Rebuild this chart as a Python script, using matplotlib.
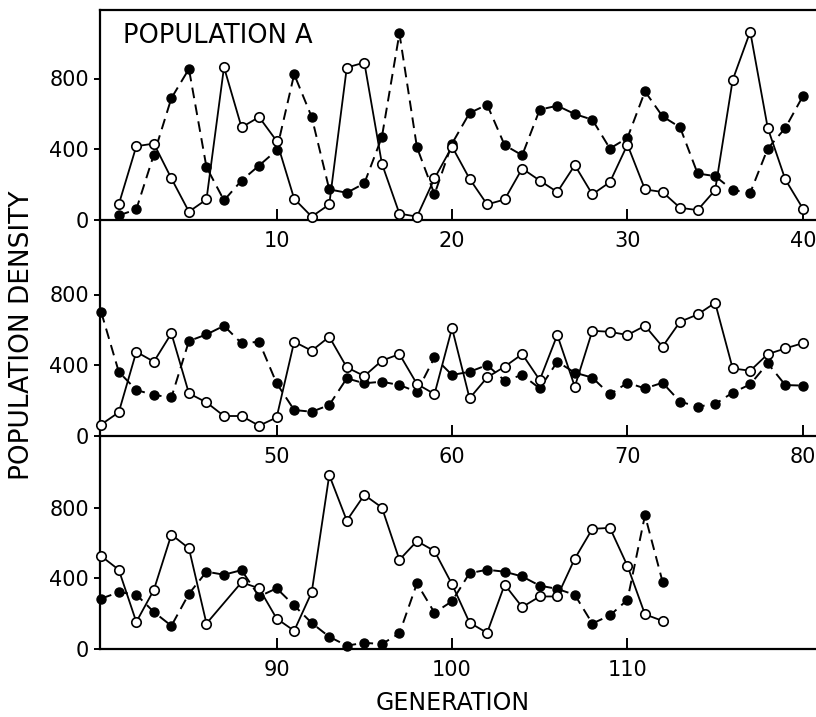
import numpy as np
import matplotlib
matplotlib.use("Agg")
import matplotlib.pyplot as plt

# ---- data -------------------------------------------------------------
generations = list(range(1, 113))

# open circles, solid line (generation 87 not plotted in original)
open_density = [
    88, 417, 432, 235, 47, 116, 864, 524, 582, 447,
    120, 19, 88, 862, 890, 319, 36, 19, 235, 415,
    233, 88, 116, 291, 223, 158, 310, 145, 214, 426,
    173, 158, 69, 56, 169, 792, 1065, 520, 229, 65,
    134, 476, 420, 580, 241, 190, 113, 113, 58, 105,
    533, 482, 561, 388, 339, 426, 463, 294, 237, 610,
    213, 331, 392, 463, 316, 571, 279, 595, 589, 571,
    623, 505, 646, 687, 753, 382, 369, 463, 495, 525,
    448, 153, 334, 647, 569, 144, np.nan, 377, 343, 172,
    103, 321, 983, 726, 871, 800, 504, 610, 554, 366,
    149, 91, 364, 237, 297, 297, 511, 679, 685, 470,
    196, 159,
]

# filled circles, dashed line
filled_density = [
    26, 60, 370, 689, 854, 299, 111, 223, 308, 394,
    824, 582, 173, 154, 207, 469, 1055, 411, 145, 432,
    605, 652, 423, 366, 624, 646, 599, 567, 404, 464,
    727, 586, 524, 263, 248, 169, 154, 404, 520, 700,
    363, 260, 232, 218, 537, 574, 623, 524, 533, 298,
    147, 137, 175, 326, 298, 307, 288, 250, 444, 345,
    363, 401, 313, 345, 269, 420, 358, 330, 235, 301,
    269, 301, 194, 166, 181, 245, 292, 411, 288, 285,
    321, 308, 209, 131, 312, 437, 420, 446, 297, 343,
    246, 147, 69, 19, 35, 28, 88, 371, 205, 270,
    429, 448, 437, 410, 358, 340, 306, 144, 190, 278,
    756, 381,
]

panel_starts = [0, 40, 80]
panel_xticks = [[10, 20, 30, 40], [50, 60, 70, 80], [90, 100, 110]]
yticks = [0, 400, 800]

# ---- figure -----------------------------------------------------------
W, H = 816, 717
fig = plt.figure(figsize=(W / 100, H / 100), dpi=100)
fig.patch.set_facecolor("white")

FONT = "DejaVu Sans"
px_per_unit = 141.5 / 800.0
left_px = 100
# (top_px, bottom_px) of each panel
panel_px = [(10, 220), (220, 436), (436, 649)]

g = np.array(generations, dtype=float)
o = np.array(open_density, dtype=float)
f = np.array(filled_density, dtype=float)

for i, (start, xt) in enumerate(zip(panel_starts, panel_xticks)):
    top_px, bot_px = panel_px[i]
    h_px = bot_px - top_px
    ax = fig.add_axes([left_px / W, 1 - bot_px / H, 1 - left_px / W, h_px / H])
    ax.set_xlim(start - 0.07, start + 40.75)
    ax.set_ylim(0, h_px / px_per_unit)

    m = (g >= start) & (g <= start + 40)
    mo = m & ~np.isnan(o)
    ax.plot(g[m], f[m], color="black", lw=1.4, ls=(0, (5.5, 3.3)),
            marker="o", ms=6.5, mfc="black", mec="black", zorder=2,
            clip_on=False)
    ax.plot(g[mo], o[mo], color="black", lw=1.3, ls="-",
            marker="o", ms=6.8, mfc="white", mec="black", mew=1.2, zorder=3,
            clip_on=False)

    ax.spines["right"].set_visible(False)
    if i > 0:
        ax.spines["top"].set_visible(False)
    for s in ["left", "bottom", "top"]:
        ax.spines[s].set_linewidth(1.6)

    ax.set_yticks(yticks)
    ax.set_yticklabels([str(v) for v in yticks], fontsize=15, family=FONT)
    ax.set_xticks(xt)
    ax.set_xticklabels([str(v) for v in xt], fontsize=15, family=FONT)
    ax.tick_params(axis="y", direction="out", length=4, width=1.4, pad=4)
    ax.tick_params(axis="x", direction="in", length=8, width=1.4, pad=8)
    ax.set_facecolor("none")

fig.text(123 / W, 1 - 43 / H, "POPULATION A", fontsize=18.5, family=FONT,
         ha="left", va="baseline")
fig.text(453 / W, 2 / H, "GENERATION", fontsize=17, family=FONT,
         ha="center", va="bottom")
fig.text(22 / W, 1 - 335 / H, "POPULATION DENSITY", fontsize=19, family=FONT,
         ha="center", va="center", rotation=90)

fig.savefig("out.png", dpi=100)
